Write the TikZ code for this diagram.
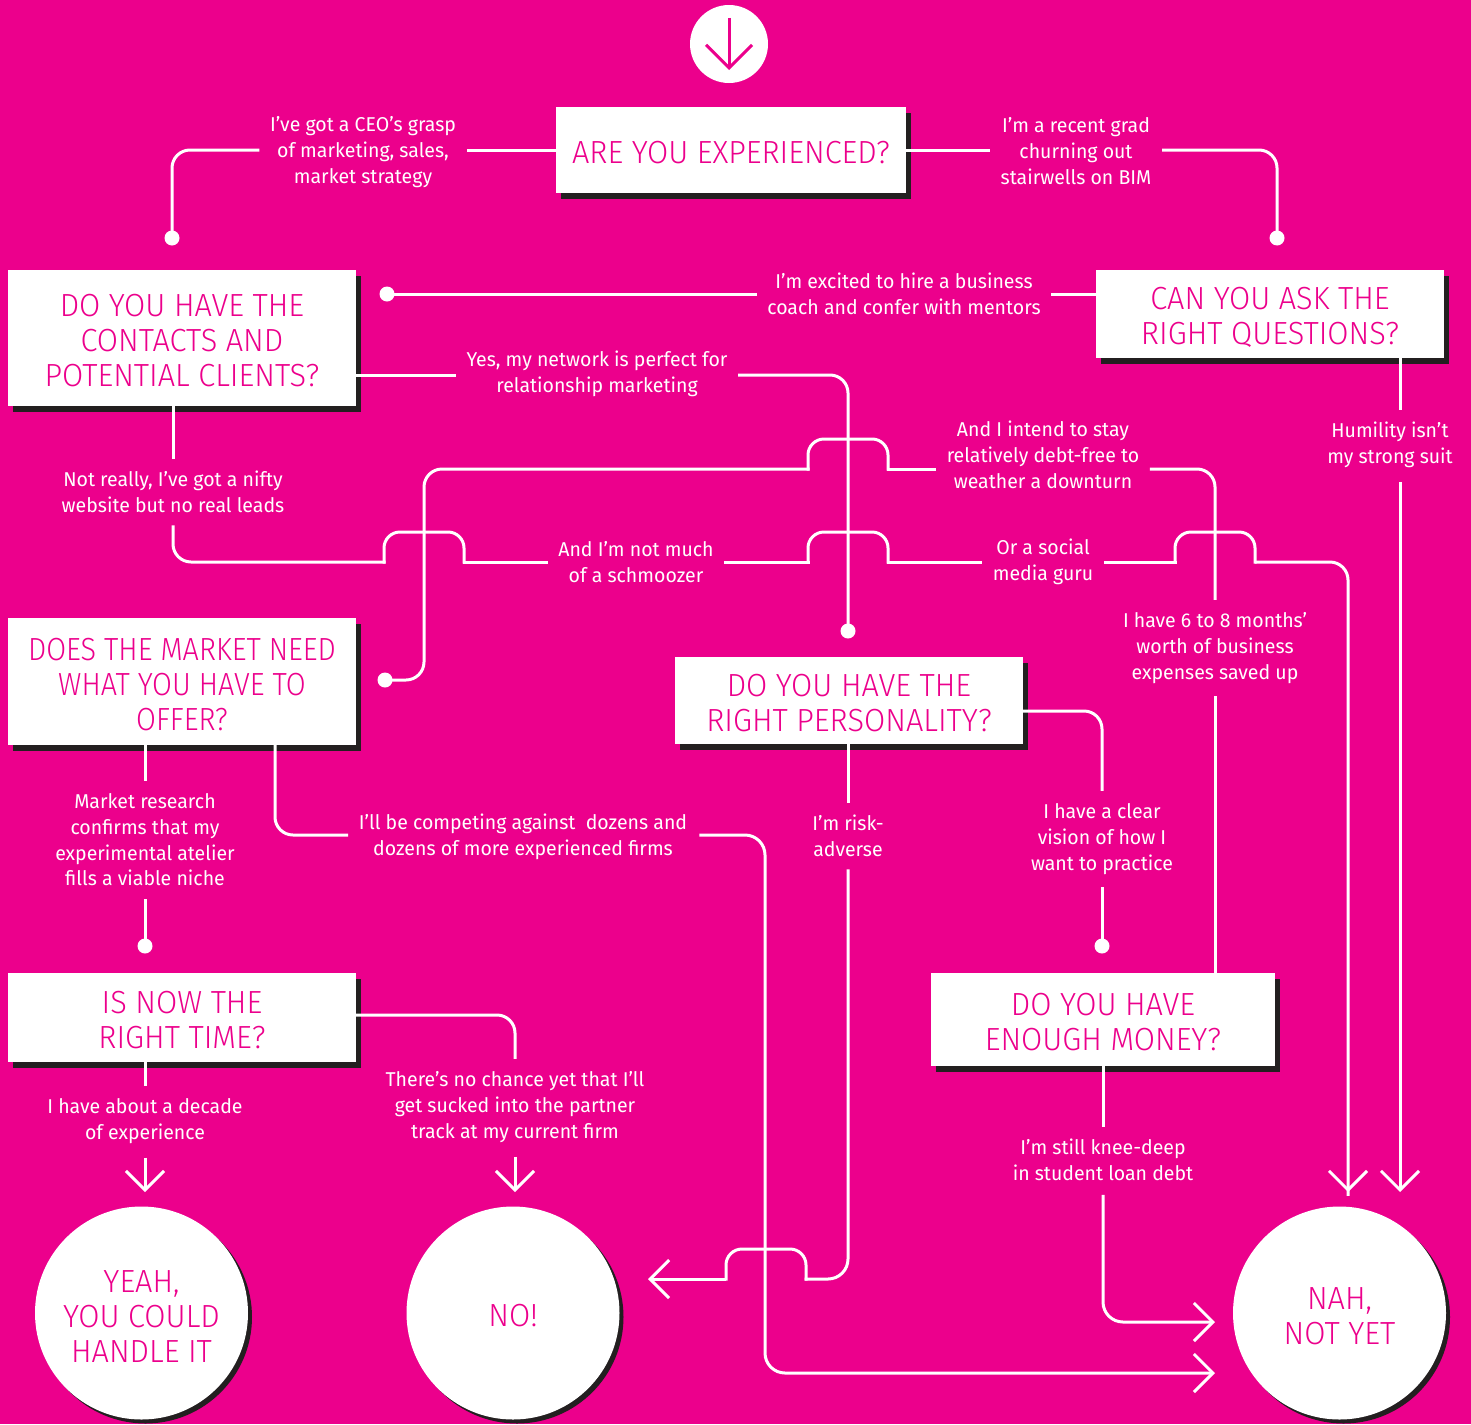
\documentclass[tikz,border=0pt]{standalone}
\usepackage{fontspec}
\setmainfont{Fira Sans}[FakeStretch=0.975]
\newfontfamily\titlefont{Fira Sans Light}[FakeStretch=0.96]
\newfontfamily\titlefontn{Fira Sans Light}[FakeStretch=0.9]
\usetikzlibrary{arrows.meta,shadows}
\definecolor{mag}{HTML}{EC008C}
\definecolor{shd}{HTML}{231F20}
\newcommand\mybump[2]{\draw[conn, rounded corners=16pt] (#1-40,#2) -- (#1-40,#2-30) -- (#1+40,#2-30) -- (#1+40,#2);}
\newcommand\tstrut{\rule{0pt}{28pt}}
\tikzset{
  qbox/.style={fill=white, text=mag, font=\titlefont\fontsize{32}{35}\selectfont, align=center, inner sep=0pt,
    general shadow={fill=shd, shadow xshift=5pt, shadow yshift=-6pt}},
  endc/.style={circle, fill=white, text=mag, font=\titlefont\fontsize{32}{35}\selectfont, align=center, inner sep=0pt,
    minimum size=213pt, general shadow={fill=shd, shadow xshift=4pt, shadow yshift=-4pt}},
  lbl/.style={text=white, font=\fontsize{20}{25.7}\selectfont, align=center, inner xsep=12pt, inner ysep=14pt},
  conn/.style={draw=white, line width=3pt, line cap=rect},
  dotn/.style={circle, fill=white, minimum size=15pt, inner sep=0pt},
  arr/.style={-{Straight Barb[length=19pt,width=38pt]}, line cap=butt}
}
\begin{document}
\begin{tikzpicture}[x=1pt,y=-1pt]
\fill[mag] (0,0) rectangle (1471,1424);
\useasboundingbox (0,0) rectangle (1471,1424);

% start
\node[circle, fill=white, minimum size=78pt, inner sep=0pt] (start) at (729,44) {};
\draw[mag, line width=3pt, -{Straight Barb[length=23pt,width=46pt]}] (start.north) ++(0,13) coordinate (sa) -- (729,70);

% question boxes
\node[qbox, minimum width=350pt, minimum height=86pt] (B1) at (731,150) {\tstrut ARE YOU EXPERIENCED?};
\node[qbox, minimum width=348pt, minimum height=136pt] (B2) at (182,338) {\tstrut DO YOU HAVE THE\\CONTACTS AND\\POTENTIAL CLIENTS?};
\node[qbox, minimum width=348pt, minimum height=88pt] (B3) at (1270,314) {\tstrut CAN YOU ASK THE\\RIGHT QUESTIONS?};
\node[qbox, font=\titlefontn\fontsize{32}{35}\selectfont, minimum width=348pt, minimum height=127pt] (B4) at (182,681.5) {\tstrut DOES THE MARKET NEED\\WHAT YOU HAVE TO\\OFFER?};
\node[qbox, minimum width=348pt, minimum height=87pt] (B5) at (849,700.5) {\tstrut DO YOU HAVE THE\\RIGHT PERSONALITY?};
\node[qbox, minimum width=348pt, minimum height=89pt] (B6) at (182,1017.5) {\tstrut IS NOW THE\\RIGHT TIME?};
\node[qbox, minimum width=344pt, minimum height=93pt] (B7) at (1103,1019.5) {\tstrut DO YOU HAVE\\ENOUGH MONEY?};

% end circles
\node[endc] (yeah) at (141.5,1313) {\tstrut YEAH,\\YOU COULD\\HANDLE IT};
\node[endc] (no) at (513,1313) {\tstrut NO!};
\node[endc] (nah) at (1339.5,1313) {\tstrut NAH,\\NOT YET};

% labels
\node[lbl] (L1) at (363,152) {I’ve got a CEO’s grasp\\of marketing, sales,\\market strategy};
\node[lbl] (L2) at (1076,151) {I’m a recent grad\\churning out\\stairwells on BIM};
\node[lbl] (L3) at (904,294) {I’m excited to hire a business\\coach and confer with mentors};
\node[lbl] (L4) at (597,374) {Yes, my network is perfect for\\relationship marketing};
\node[lbl] (L5) at (173,492) {Not really, I’ve got a nifty\\website but no real leads};
\node[lbl] (L6) at (636,562) {And I’m not much\\of a schmoozer};
\node[lbl] (L7) at (1043,562) {Or a social\\media guru};
\node[lbl] (L8) at (1390,445) {Humility isn’t\\my strong suit};
\node[lbl] (L9) at (1043,455) {And I intend to stay\\relatively debt-free to\\weather a downturn};
\node[lbl] (L10) at (1215,648) {I have 6 to 8 months’\\worth of business\\expenses saved up};
\node[lbl] (L11) at (145,840) {Market research\\confirms that my\\experimental atelier\\fills a viable niche};
\node[lbl] (L12) at (523,837) {I’ll be competing against\ \ dozens and\\dozens of more experienced firms};
\node[lbl] (L13) at (848,836) {I’m risk-\\adverse};
\node[lbl] (L14) at (1102,839) {I have a clear\\vision of how I\\want to practice};
\node[lbl] (L15) at (145,1121) {I have about a decade\\of experience};
\node[lbl] (L16) at (515,1107) {There’s no chance yet that I’ll\\get sucked into the partner\\track at my current firm};
\node[lbl] (L17) at (1103,1160) {I’m still knee-deep\\in student loan debt};

% dots
\node[dotn] (D1) at (172,238) {};
\node[dotn] (D2) at (1277,238) {};
\node[dotn] (D3) at (387,294) {};
\node[dotn] (D4) at (848,631) {};
\node[dotn] (D5) at (385,680) {};
\node[dotn] (D6) at (145,946) {};
\node[dotn] (D7) at (1102,946) {};

% connectors
\draw[conn] (B1.west) -- (B1.west -| L1.east);
\draw[conn, rounded corners=18pt] (B1.west -| L1.west) -| (D1);
\draw[conn] (B1.east) -- (B1.east -| L2.west);
\draw[conn, rounded corners=18pt] (B1.east -| L2.east) -| (D2);

\draw[conn] (D3) -- (D3 -| L3.west);
\draw[conn] (D3 -| L3.east) -- (D3 -| B3.west);

\draw[conn] (B2.east |- 0,375) -- (L4.west |- 0,375);
\draw[conn, rounded corners=18pt] (L4.east |- 0,375) -| (D4);

\draw[conn] (B2.south -| L5.north) -- (L5.north);
\draw[conn, rounded corners=18pt] (L5.south) |- (384,562);
\mybump{424}{562}
\draw[conn] (464,562) -- (L6.west);
\draw[conn] (L6.east) -- (808,562);
\mybump{848}{562}
\draw[conn] (888,562) -- (L7.west);
\draw[conn] (L7.east) -- (1175,562);
\mybump{1215}{562}
\draw[conn, arr, rounded corners=18pt] (1255,562) -| (nah.north -| 1348,0) -- (1348,1192);

\draw[conn] (B3.south -| 1400,0) -- (L8.north -| 1400,0);
\draw[conn, arr] (L8.south -| 1400,0) -- (1400,1192);

\draw[conn, rounded corners=18pt] (D5) -- (424,680) -- (424,469) -- (808,469);
\mybump{848}{469}
\draw[conn] (888,469) -- (L9.west |- 0,469);
\draw[conn, rounded corners=18pt] (L9.east |- 0,469) -| (L10.north);
\draw[conn] (L10.south) -- (L10.south |- B7.north);

\draw[conn] (B4.south -| L11.north) -- (L11.north);
\draw[conn] (L11.south) -- (D6);
\draw[conn, rounded corners=18pt] (B4.south -| 275,0) |- (L12.west |- 0,835);
\draw[conn, arr, rounded corners=20pt] (L12.east |- 0,835) -| (765,1373) -- (1215,1373);

\draw[conn] (B5.south -| L13.north) -- (L13.north);
\draw[conn, rounded corners=20pt] (L13.south) |- (806,1279);
\mybump{766}{1279}
\draw[conn, arr] (726,1279) -- (648,1279);

\draw[conn, rounded corners=18pt] (B5.east |- 0,711) -| (L14.north);
\draw[conn] (L14.south) -- (D7);

\draw[conn] (B6.south -| L15.north) -- (L15.north);
\draw[conn, arr] (L15.south) -- (L15.south |- 0,1192);
\draw[conn, rounded corners=18pt] (B6.east |- 0,1015) -| (L16.north);
\draw[conn, arr] (L16.south) -- (L16.south |- 0,1192);

\draw[conn] (B7.south -| L17.north) -- (L17.north);
\draw[conn, arr, rounded corners=20pt] (L17.south) |- (1215,1322);
\end{tikzpicture}
\end{document}
